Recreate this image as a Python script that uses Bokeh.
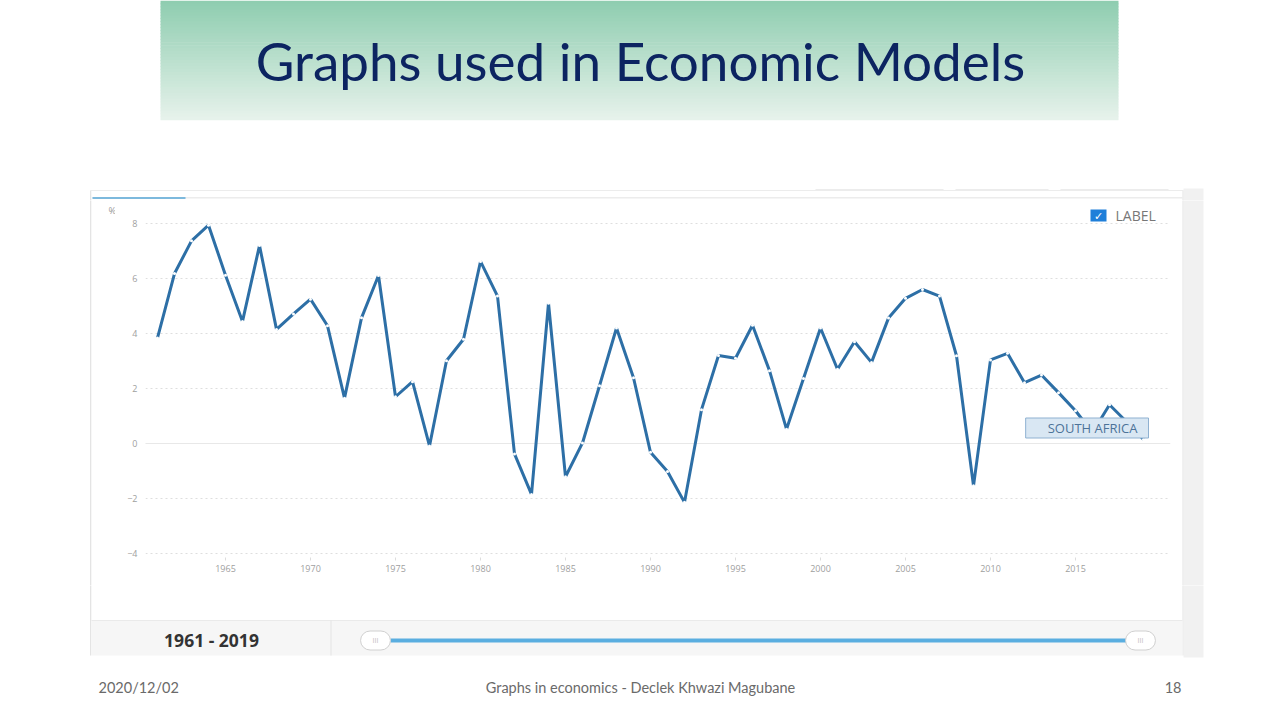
from bokeh.plotting import figure
from bokeh.layouts import column, row
from bokeh.models import Range1d, FixedTicker, BoxAnnotation, Label, Span, ColumnDataSource
from bokeh.embed import file_html
from bokeh.resources import INLINE

# ---------------- data ----------------
years = list(range(1961, 2020))
growth = [3.84, 6.18, 7.37, 7.94, 6.12, 4.44, 7.20, 4.15, 4.71, 5.25,
          4.28, 1.65, 4.57, 6.11, 1.70, 2.25, -0.09, 3.01, 3.79, 6.62,
          5.36, -0.38, -1.85, 5.10, -1.21, 0.02, 2.10, 4.20, 2.39, -0.32,
          -1.02, -2.14, 1.23, 3.20, 3.10, 4.30, 2.65, 0.52, 2.36, 4.20,
          2.70, 3.70, 2.95, 4.56, 5.28, 5.60, 5.36, 3.19, -1.54, 3.04,
          3.28, 2.21, 2.49, 1.85, 1.19, 0.40, 1.41, 0.79, 0.15]
x_ticks = [1965, 1970, 1975, 1980, 1985, 1990, 1995, 2000, 2005, 2010, 2015]
y_ticks = [-4, -2, 0, 2, 4, 6, 8]
series_name = "SOUTH AFRICA"
period_label = "1961 - 2019"
title_text = "Graphs used in Economic Models"
footer_left = "2020/12/02"
footer_mid = "Graphs in economics - Declek Khwazi Magubane"
footer_right = "18"

# ---------------- page geometry ----------------
W, H = 1280, 720
MID_T, MID_B = 200, 585          # middle band (chart row)
CL, CR = 115, 1175               # chart figure horizontal extent
FL, FR, FT, FB = 145, 1170, 205, 560   # plot frame edges on the page
PX_PER_YEAR, X_REF_PX, X_REF = 17.0, 157.0, 1961
PX_PER_UNIT, ZERO_PX = 27.5, 443.0

X0 = X_REF + (FL - X_REF_PX) / PX_PER_YEAR
X1 = X_REF + (FR - X_REF_PX) / PX_PER_YEAR
Y1 = (ZERO_PX - FT) / PX_PER_UNIT
Y0 = (ZERO_PX - FB) / PX_PER_UNIT


def dx(px):
    return X0 + (px - FL) * (X1 - X0) / (FR - FL)


def dy(py):
    return Y1 - (py - FT) * (Y1 - Y0) / (FB - FT)


def deco_fig(x0, x1, y0, y1):
    f = figure(width=x1 - x0, height=y1 - y0, output_backend="svg", toolbar_location=None,
               x_range=Range1d(x0, x1), y_range=Range1d(y1, y0),
               x_axis_location=None, y_axis_location=None, min_border=0,
               frame_align=False)
    f.grid.visible = False
    f.outline_line_color = None
    f.background_fill_color = "white"
    f.border_fill_color = "white"
    return f


top = deco_fig(0, W, 0, MID_T)
left = deco_fig(0, CL, MID_T, MID_B)
right = deco_fig(CR, W, MID_T, MID_B)
bottom = deco_fig(0, W, MID_B, H)
decos = [top, left, right, bottom]


def pbox(l, r, t, b, fill, level="underlay"):
    for f in decos:
        x0, x1 = f.x_range.start, f.x_range.end
        yb, yt = f.y_range.start, f.y_range.end
        if r <= x0 or l >= x1 or b <= yt or t >= yb:
            continue
        f.add_layout(BoxAnnotation(left=l, right=r, top=t, bottom=b, fill_color=fill,
                                   fill_alpha=1.0, line_color=None, level=level,
                                   editable=False))


def ptext(f, px, py, text, size, color, font="Open Sans", align="left",
          style="normal", **kw):
    f.add_layout(Label(x=px, y=py, text=text, text_font_size=size, text_color=color,
                       text_font=font, text_align=align, text_baseline="middle",
                       text_font_style=style, **kw))


def hexlerp(c1, c2, t):
    a = [int(c1[i:i + 2], 16) for i in (1, 3, 5)]
    b = [int(c2[i:i + 2], 16) for i in (1, 3, 5)]
    return "#%02x%02x%02x" % tuple(round(a[k] + (b[k] - a[k]) * t) for k in range(3))


# title banner (vertical gradient)
n = 40
for i in range(n):
    pbox(160, 1118, 119 * i / n, 119 * (i + 1) / n + 0.7,
         hexlerp("#8fcdb0", "#e6f2eb", i / (n - 1)))
ptext(top, 640, 60, title_text, "53px", "#0c2461", font="Lato", align="center")

# chart panel
pbox(90, 1183, 190, 655, "white")
pbox(89.5, 90.8, 190, 655, "#e4e4e4")
pbox(1182, 1183.2, 190, 655, "#e4e4e4")
pbox(90, 1183, 189.5, 190.5, "#ececec")
pbox(1183, 1203, 188, 657, "#f1f1f1")
pbox(92, 1182, 196.5, 198, "#ececec")
pbox(92, 185, 196.5, 198.5, "#7db9dd")
for a, b in [(815, 943), (955, 1048), (1060, 1168)]:
    pbox(a, b, 188.5, 189.8, "#ececec")
ptext(left, 112, 210, "%", "9.5px", "#9a9a9a", align="center")

# period bar with slider
pbox(91, 1182, 620, 655, "#f6f6f6")
pbox(91, 1182, 619.5, 620.5, "#eaeaea")
pbox(330, 331, 620, 655, "#e3e3e3")
pbox(390, 1126, 638, 642, "#5aaee0")
ptext(bottom, 211, 639, period_label, "17.5px", "#333333", align="center", style="bold")
for hx in (375, 1140):
    ptext(bottom, hx, 640, "III", "7px", "#bbbbbb", align="center",
          background_fill_color="white", border_line_color="#d0d0d0",
          padding=dict(left=12, right=12, top=5, bottom=5), border_radius=10)

# footer
ptext(bottom, 98, 687, footer_left, "14.5px", "#6a6a6a", font="Lato")
ptext(bottom, 640, 687, footer_mid, "14.5px", "#6a6a6a", font="Lato", align="center")
ptext(bottom, 1181, 687, footer_right, "14.5px", "#6a6a6a", font="Lato", align="right")

# ---------------- chart ----------------
p = figure(width=CR - CL, height=MID_B - MID_T, output_backend="svg", toolbar_location=None,
           x_range=Range1d(X0, X1), y_range=Range1d(Y0, Y1),
           min_border_left=FL - CL, min_border_right=CR - FR,
           min_border_top=FT - MID_T, min_border_bottom=MID_B - FB,
           frame_align=False)
p.outline_line_color = None
p.background_fill_color = "white"
p.border_fill_color = "white"

p.xaxis.ticker = FixedTicker(ticks=x_ticks)
p.yaxis.ticker = FixedTicker(ticks=y_ticks)
for ax in (p.xaxis[0], p.yaxis[0]):
    ax.axis_line_color = None
    ax.major_label_text_color = "#a0a0a0"
    ax.major_label_text_font = "Open Sans"
    ax.major_label_text_font_size = "9px"
    ax.minor_tick_line_color = None
    ax.minor_tick_out = 0
    ax.minor_tick_in = 0
p.yaxis.major_tick_line_color = None
p.yaxis.major_tick_out = 0
p.yaxis.major_tick_in = 0
p.yaxis.major_label_standoff = 8
p.xaxis.major_tick_line_color = "#dddddd"
p.xaxis.major_tick_in = 3
p.xaxis.major_tick_out = 0
p.xaxis.major_label_standoff = 4
p.xgrid.grid_line_color = None
p.ygrid.grid_line_color = "#dedede"
p.ygrid.grid_line_dash = "2 3"
p.add_layout(Span(location=0, dimension="width", line_color="#e8e8e8", line_width=1,
                  level="underlay"))

src = ColumnDataSource(dict(year=years, value=growth))
p.line("year", "value", source=src, line_color="#2d6fa6", line_width=3)
p.scatter("year", "value", source=src, size=3, fill_color="white", line_color=None)

p.add_layout(Label(x=dx(1148), y=dy(427.5), text=series_name, text_font_size="13px",
                   text_font="Open Sans", text_color="#4d7399", text_align="right",
                   text_baseline="middle", background_fill_color="#d9e7f3",
                   border_line_color="#8fb1d1",
                   padding=dict(left=22, right=11, top=1, bottom=1)))
p.add_layout(BoxAnnotation(left=dx(1090), right=dx(1106), top=dy(209), bottom=dy(221),
                           fill_color="#1f7fd9", fill_alpha=1.0, line_color=None,
                           editable=False))
p.add_layout(Label(x=dx(1098), y=dy(215.5), text="✓", text_font_size="11px",
                   text_font="DejaVu Sans", text_color="white", text_align="center",
                   text_baseline="middle"))
p.add_layout(Label(x=dx(1115), y=dy(215), text="LABEL", text_font_size="14px",
                   text_font="Open Sans", text_color="#777777", text_baseline="middle"))

page = column(top, row(left, p, right), bottom)
open("out.html", "w").write(file_html(page, INLINE))
